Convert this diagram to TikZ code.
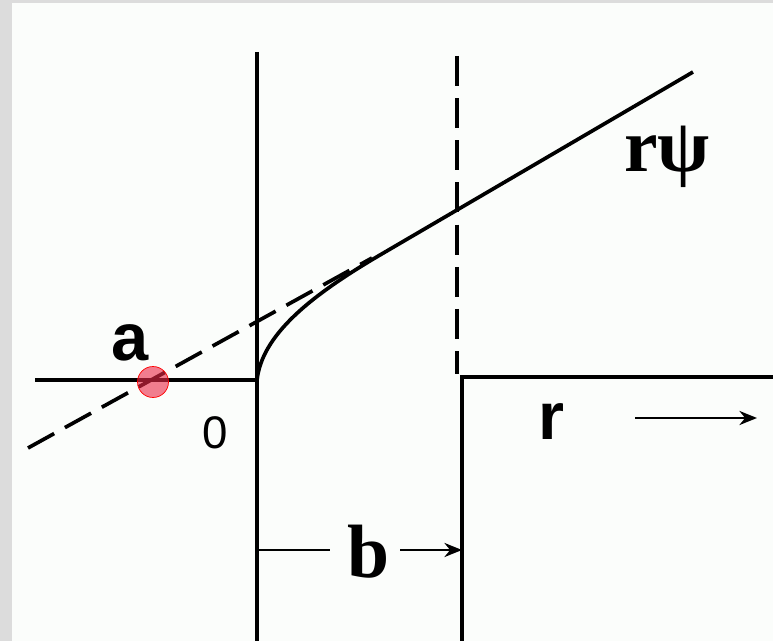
\documentclass[tikz,border=0pt]{standalone}
\usepackage{fontspec}
\setmainfont{Liberation Serif}
\setsansfont{Liberation Sans}
\usetikzlibrary{arrows.meta}
\definecolor{framegray}{RGB}{220,220,220}
\definecolor{paper}{RGB}{251,253,251}
\definecolor{markred}{RGB}{235,40,70}

\begin{document}
\begin{tikzpicture}[x=0.02cm, y=-0.02cm,
        wall/.style={line width=2.1pt, black},
        guide/.style={line width=2.1pt, black, dash pattern=on 17pt off 7pt},
        dimline/.style={line width=1.5pt, black},
        dimarrow/.style={line width=1.5pt, black, -{Stealth[length=10pt,width=8pt]}},
        sanslbl/.style={font=\sffamily\bfseries\fontsize{38}{40}\selectfont, inner sep=0pt},
        numlbl/.style={font=\sffamily\fontsize{26}{28}\selectfont, inner sep=0pt},
        seriflbl/.style={font=\rmfamily\bfseries\fontsize{43}{46}\selectfont, inner sep=0pt}]

        % frame and paper
        \fill[framegray] (0,0) rectangle (773,641);
        \fill[paper] (12,3) rectangle (773,641);
        \useasboundingbox (0,0) rectangle (773,641);

        % points of the well
        \coordinate (o) at (257,380);
        \coordinate (wtop) at (257,52);
        \coordinate (wbot) at (257,641);
        \coordinate (lend) at (35,380);
        \coordinate (btop) at (457,56);
        \coordinate (bbot) at (457,374);
        \coordinate (rbot) at (462,641);
        \coordinate (rcorner) at (462,377);
        \coordinate (rend) at (773,377);
        \coordinate (join) at (380,255);
        \coordinate (tip) at (693,72);
        \coordinate (tanstart) at (28,448);
        \coordinate (tanend) at (372,258);

        % walls
        \draw[wall] (wtop) -- (wbot);
        \draw[wall] (lend) -- (o);
        \draw[wall] (rbot) -- (rcorner) -- (rend);
        \draw[guide] (btop) -- (bbot);

        % wave function and its tangent
        \draw[guide] (tanstart) -- (tanend);
        \draw[wall] (o) .. controls (262,335) and (310,296) .. (join) -- (tip);

        % scattering length mark
        \node[circle, draw=red, fill=markred, fill opacity=0.6, inner sep=0pt, minimum size=0.62cm] (amark) at (153,382) {};

        % labels
        \node[sanslbl] (alabel) at (130,343) {a};
        \node[numlbl] (zero) at (215,433) {0};
        \node[sanslbl] (rlabel) at (551,422) {r};
        \node[seriflbl, anchor=base west] (rpsi) at (624,172) {rψ};
        \node[seriflbl, anchor=base] (blabel) at (369,577) {b};

        % r axis arrow
        \coordinate (rarrs) at (635,418);
        \coordinate (rarre) at (757,418);
        \draw[dimarrow] (rarrs) -- (rarre);

        % width b
        \coordinate (bl) at (258,550);
        \coordinate (blend) at (330,550);
        \coordinate (brs) at (400,550);
        \coordinate (br) at (462,550);
        \draw[dimline] (bl) -- (blend);
        \draw[dimarrow] (brs) -- (br);

    \end{tikzpicture}
\end{document}
